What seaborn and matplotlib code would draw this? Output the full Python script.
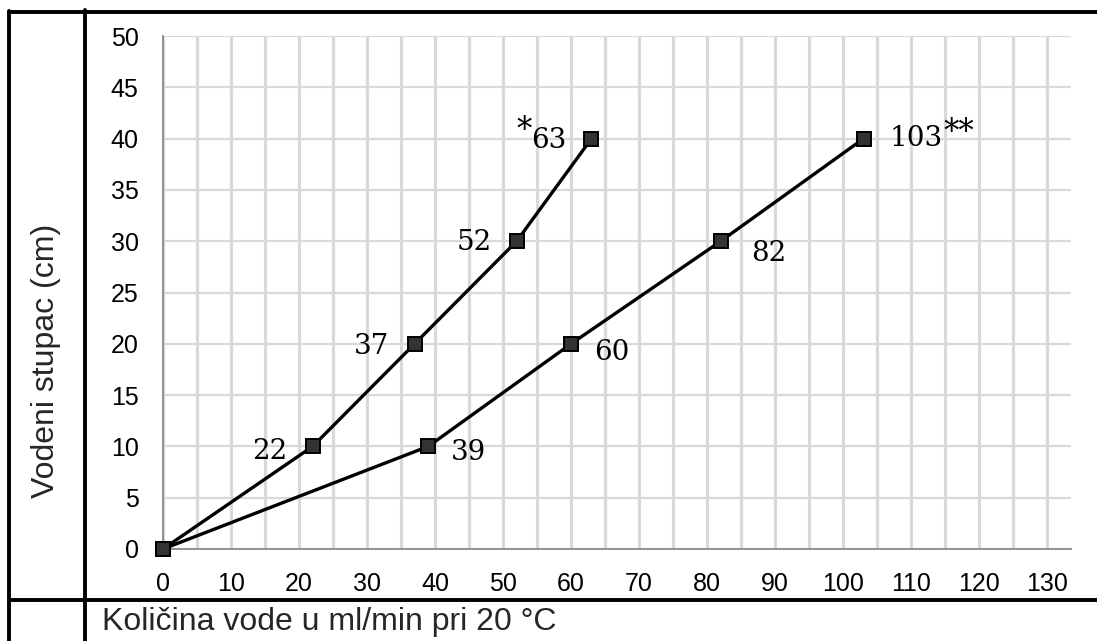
import matplotlib
matplotlib.use('Agg')
import matplotlib.pyplot as plt
import seaborn as sns
import pandas as pd
from matplotlib.lines import Line2D

# ---- data ----
heights = [0, 10, 20, 30, 40]
flow_a = [0, 22, 37, 52, 63]
flow_b = [0, 39, 60, 82, 103]
labels_a = ['', '22', '37', '52', '63']
labels_b = ['', '39', '60', '82', '103']
marks_a = ['', '', '', '', '*']
marks_b = ['', '', '', '', '**']
x_ticks = list(range(0, 131, 10))
x_minor = list(range(5, 131, 10))
y_ticks = list(range(0, 51, 5))
x_label = 'Količina vode u ml/min pri 20 °C'
y_label = 'Vodeni stupac (cm)'

sns.set_style('white')
plt.rcParams['font.family'] = ['Liberation Sans', 'DejaVu Sans']

W, H = 1097, 641
fig = plt.figure(figsize=(W / 100, H / 100), dpi=100)
ax = fig.add_axes([163 / W, 1 - 549 / H, (1071 - 163) / W, (549 - 36) / H])

df_a = pd.DataFrame({'flow': flow_a, 'height': heights})
df_b = pd.DataFrame({'flow': flow_b, 'height': heights})
for d in (df_a, df_b):
    sns.lineplot(data=d, x='flow', y='height', color='black', marker='s',
                 sort=False, estimator=None, legend=False, ax=ax,
                 linewidth=2.4, zorder=5)
for ln in ax.lines:
    ln.set_markersize(10.5)
    ln.set_markerfacecolor('#333333')
    ln.set_markeredgecolor('black')
    ln.set_markeredgewidth(1.4)
    ln.set_clip_on(False)

ax.set_xlim(0, 133.5)
ax.set_ylim(0, 50)
ax.set_xticks(x_ticks)
ax.set_xticks(x_minor, minor=True)
ax.set_yticks(y_ticks)
ax.xaxis.grid(True, which='both', color='#d9d9d9', lw=2.3)
ax.yaxis.grid(True, which='major', color='#d9d9d9', lw=1.6)
ax.set_axisbelow(True)
ax.set_xlabel('')
ax.set_ylabel('')

for s in ('top', 'right'):
    ax.spines[s].set_visible(False)
for s in ('left', 'bottom'):
    ax.spines[s].set_color('#8a8a8a')
    ax.spines[s].set_linewidth(1.3)

ax.tick_params(axis='both', which='major', direction='out', length=5.5,
               width=1.2, color='#8a8a8a', labelsize=18, labelcolor='black')
ax.tick_params(axis='x', which='major', pad=11)
ax.tick_params(axis='y', which='major', pad=12)
ax.tick_params(axis='x', which='minor', length=0)

serif = dict(family='DejaVu Serif', fontsize=20, color='black')
offs_a = [None, (-25, -5), (-25, -3), (-25, -1), (-25, -2)]
offs_b = [None, (23, -6), (23, -9), (30, -12), (26, 0)]
star_a = [None, None, None, None, (-60, 10, 'right')]
star_b = [None, None, None, None, (80, 6, 'left')]
for xs, labs, marks, offs, stars, ha in (
        (flow_a, labels_a, marks_a, offs_a, star_a, 'right'),
        (flow_b, labels_b, marks_b, offs_b, star_b, 'left')):
    for x, y, lab, mk, off, st in zip(xs, heights, labs, marks, offs, stars):
        if not lab:
            continue
        ax.annotate(lab, (x, y), xytext=off, textcoords='offset pixels',
                    ha=ha, va='center', **serif)
        if mk:
            ax.annotate(mk, (x, y), xytext=(st[0], off[1] + st[1]),
                        textcoords='offset pixels', ha=st[2], va='center',
                        family='DejaVu Serif', fontsize=22, color='black')

# table frame
def fl(x0, y0, x1, y1):
    fig.add_artist(Line2D([x0 / W, x1 / W], [1 - y0 / H, 1 - y1 / H],
                          transform=fig.transFigure, color='black', lw=2.8))
fl(9, 12, W, 12)
fl(9, 11, 9, H)
fl(85, 10, 85, H)
fl(9, 600, W, 600)

fig.text(102 / W, 1 - 622 / H, x_label, ha='left', va='center', fontsize=23)
fig.text(46 / W, 1 - 361 / H, y_label, rotation=90, ha='center', va='center', fontsize=23)

fig.savefig('out.png', dpi=100)
